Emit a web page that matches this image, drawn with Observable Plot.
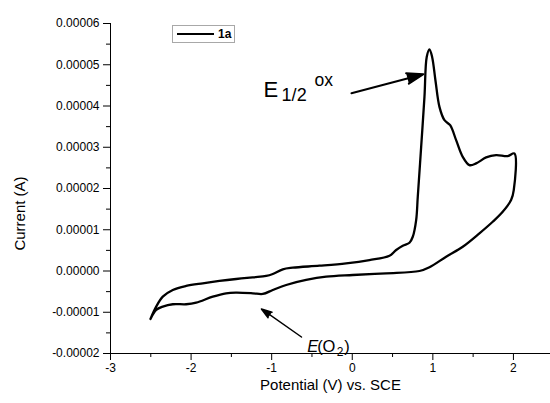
<!DOCTYPE html>
<html>
<head>
<meta charset="utf-8">
<script src="https://cdn.jsdelivr.net/npm/d3@7"></script>
<script src="https://cdn.jsdelivr.net/npm/@observablehq/plot@0.6"></script>
<style>
  body { margin: 0; background: #fff; font-family: "Liberation Sans", Arial, sans-serif; }
  #wrap { position: relative; width: 550px; height: 403px; }
  #legend { position: absolute; left: 172px; top: 25px; width: 63px; height: 18px; box-sizing: border-box;
            border: 1px solid #a8a8a8; background: #fff; display: flex; align-items: center; }
  #legend .sw { width: 37px; height: 2px; background: #000; margin-left: 4px; }
  #legend .lb { font-weight: bold; font-size: 12px; margin-left: 4px; color: #000; }
</style>
</head>
<body>
<div id="wrap">
  <div id="chart"></div>
  <div id="legend"><span class="sw"></span><span class="lb"></span></div>
</div>
<script>
// ---- data ----
const seriesName = "1a";
// potential (V) vs SCE, in scan order
const potential = [
  -2.504, -2.433, -2.351, -2.227, -2.061, -1.855, -1.648, -1.440, -1.235, -1.068,
  -0.986, -0.862, -0.738, -0.407, -0.076, 0.213, 0.462, 0.545, 0.627, 0.710,
  0.751, 0.793, 0.813, 0.855, 0.896, 0.924, 0.958, 0.991, 1.032, 1.082,
  1.144, 1.215, 1.289, 1.371, 1.454, 1.537, 1.661, 1.785, 1.929, 2.012,
  2.004, 1.971, 1.867, 1.743, 1.578, 1.371, 1.165, 0.958, 0.834, 0.421,
  0.006, -0.324, -0.572, -0.820, -0.986, -1.110, -1.235, -1.440, -1.566, -1.731,
  -1.937, -2.061, -2.227, -2.351, -2.433, -2.504
];
// current (A)
const current = [
  -1.162e-5, -0.864e-5, -0.622e-5, -0.460e-5, -0.363e-5, -0.298e-5, -0.242e-5, -0.194e-5, -0.153e-5, -0.121e-5,
  -0.073e-5, 0.041e-5, 0.080e-5, 0.128e-5, 0.186e-5, 0.266e-5, 0.370e-5, 0.508e-5, 0.613e-5, 0.685e-5,
  0.830e-5, 1.235e-5, 1.799e-5, 3.010e-5, 4.220e-5, 5.189e-5, 5.375e-5, 5.189e-5, 4.625e-5, 3.978e-5,
  3.656e-5, 3.535e-5, 3.172e-5, 2.768e-5, 2.567e-5, 2.608e-5, 2.753e-5, 2.809e-5, 2.785e-5, 2.850e-5,
  1.961e-5, 1.719e-5, 1.436e-5, 1.194e-5, 0.913e-5, 0.588e-5, 0.346e-5, 0.090e-5, 0.000e-5, -0.056e-5,
  -0.097e-5, -0.138e-5, -0.218e-5, -0.339e-5, -0.460e-5, -0.557e-5, -0.540e-5, -0.525e-5, -0.540e-5, -0.622e-5,
  -0.768e-5, -0.806e-5, -0.806e-5, -0.864e-5, -0.944e-5, -1.162e-5
];
const xTicks = [-3, -2, -1, 0, 1, 2];
const xMinorTicks = [-2.5, -1.5, -0.5, 0.5, 1.5];
const yTicks = [-0.00002, -0.00001, 0, 0.00001, 0.00002, 0.00003, 0.00004, 0.00005, 0.00006];
const yMinorTicks = [-0.000015, -0.000005, 0.000005, 0.000015, 0.000025, 0.000035, 0.000045, 0.000055];
const xLabel = "Potential (V) vs. SCE";
const yLabel = "Current (A)";
// annotations
const oxLabelPos = {x: -1.10, y: 4.21e-5};
const oxArrow = {x1: -0.010, y1: 4.31e-5, x2: 0.883, y2: 4.77e-5};
const o2LabelPos = {x: -0.56, y: -1.965e-5};
const o2Arrow = {x1: -0.630, y1: -1.60e-5, x2: -1.127, y2: -0.92e-5};

const cv = potential.map((p, i) => ({potential: p, current: current[i]}));

const font = "Liberation Sans, Arial, sans-serif";
const chart = Plot.plot({
  width: 550,
  height: 403,
  marginLeft: 110,
  marginRight: 0,
  marginTop: 23,
  marginBottom: 50,
  style: {fontFamily: font, fontSize: "12px", color: "#000", background: "#fff"},
  x: {domain: [-3, 2.46], axis: null},
  y: {domain: [-0.00002, 0.00006], axis: null},
  marks: [
    Plot.ruleX([-3], {stroke: "#000", strokeWidth: 1}),
    Plot.ruleY([-0.00002], {stroke: "#000", strokeWidth: 1}),
    Plot.axisX(xTicks, {tickSize: 7, tickPadding: 3, tickFormat: d => String(d), fontSize: 12}),
    Plot.axisX(xMinorTicks, {tickSize: 4, tickFormat: () => ""}),
    Plot.axisY(yTicks, {tickSize: 7, tickPadding: 4, tickFormat: d => d.toFixed(5), fontSize: 12}),
    Plot.axisY(yMinorTicks, {tickSize: 4, tickFormat: () => ""}),
    Plot.text([xLabel], {frameAnchor: "bottom", textAnchor: "middle", dy: 36, fontSize: 15}),
    Plot.text([yLabel], {frameAnchor: "left", textAnchor: "middle", dx: -90, dy: 25, rotate: -90, fontSize: 15}),
    Plot.line(cv, {x: "potential", y: "current", stroke: "#000", strokeWidth: 2.3, curve: "catmull-rom"}),
    // E1/2ox annotation
    Plot.text([oxLabelPos], {x: "x", y: "y", text: () => "E", textAnchor: "start", lineAnchor: "bottom", fontSize: 22}),
    Plot.text([oxLabelPos], {x: "x", y: "y", text: () => "1/2", textAnchor: "start", lineAnchor: "bottom", fontSize: 18, letterSpacing: 2.3, dx: 18, dy: 4}),
    Plot.text([oxLabelPos], {x: "x", y: "y", text: () => "ox", textAnchor: "start", lineAnchor: "bottom", fontSize: 17.5, dx: 51, dy: -11}),
    Plot.arrow([oxArrow], {x1: "x1", y1: "y1", x2: "x2", y2: "y2", stroke: "#000", strokeWidth: 2, headLength: 13, headAngle: 36}),
    // E(O2) annotation
    Plot.text([o2LabelPos], {x: "x", y: "y", text: () => "E", textAnchor: "start", lineAnchor: "bottom", fontSize: 16.5, fontStyle: "italic"}),
    Plot.text([o2LabelPos], {x: "x", y: "y", text: () => "(O", textAnchor: "start", lineAnchor: "bottom", fontSize: 16.5, dx: 10}),
    Plot.text([o2LabelPos], {x: "x", y: "y", text: () => "2", textAnchor: "start", lineAnchor: "bottom", fontSize: 12, dx: 29.5, dy: 4}),
    Plot.text([o2LabelPos], {x: "x", y: "y", text: () => ")", textAnchor: "start", lineAnchor: "bottom", fontSize: 16.5, dx: 37}),
    Plot.arrow([o2Arrow], {x1: "x1", y1: "y1", x2: "x2", y2: "y2", stroke: "#000", strokeWidth: 1.5, headLength: 11, headAngle: 36})
  ]
});
// fill arrowheads (closed head subpath)
d3.select(chart).selectAll('g[aria-label="arrow"] path').attr("fill", "#000");
document.getElementById("chart").appendChild(chart);
document.querySelector("#legend .lb").textContent = seriesName;
</script>
</body>
</html>
